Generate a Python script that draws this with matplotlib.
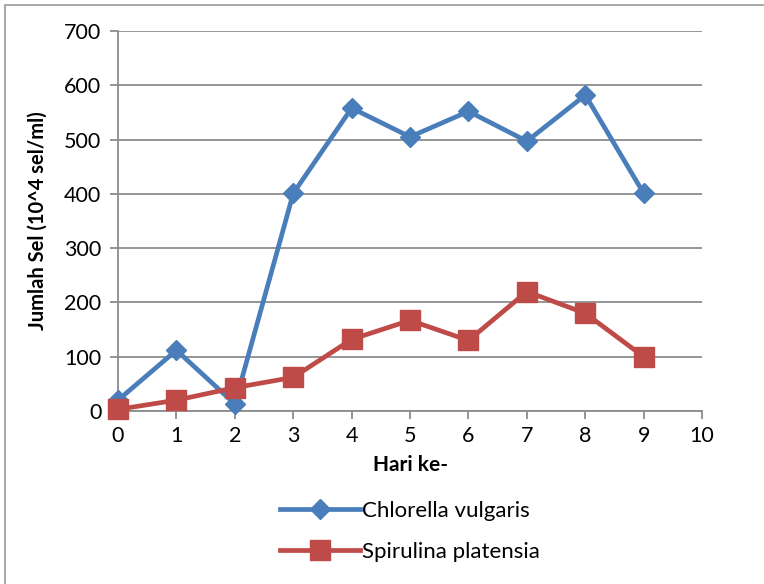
import matplotlib.pyplot as plt
import matplotlib.patches as patches
from matplotlib.lines import Line2D

plt.rcParams['font.family'] = ['Lato', 'DejaVu Sans']

# data
hari = [0, 1, 2, 3, 4, 5, 6, 7, 8, 9]
chlorella = [20, 112, 13, 401, 558, 505, 552, 497, 582, 401]
spirulina = [3, 20, 43, 62, 132, 167, 130, 220, 180, 100]
series_names = ["Chlorella vulgaris", "Spirulina platensia"]

blue = "#4A7EBB"
red = "#BE4B48"
grid_gray = "#8C8C8C"

fig = plt.figure(figsize=(7.64, 5.84), dpi=100)
ax = fig.add_axes([0.1545, 0.2962, 0.7645, 0.6507])

# outer chart frame
fig.patches.append(patches.Rectangle((5 / 764, -0.05), 1.1, 1.05 - 5 / 584,
                                     transform=fig.transFigure, fill=False,
                                     edgecolor="#9A9A9A", linewidth=1.2))

ax.plot(hari, chlorella, color=blue, linewidth=3.4, marker='D', markersize=10,
        clip_on=False, zorder=3)
ax.plot(hari, spirulina, color=red, linewidth=3.4, marker='s', markersize=14,
        clip_on=False, zorder=4)

ax.set_xlim(0, 10)
ax.set_ylim(0, 700)
ax.set_xticks(range(0, 11))
ax.set_yticks(range(0, 701, 100))
ax.yaxis.grid(True, color=grid_gray, linewidth=1.3)
ax.set_axisbelow(True)

for s in ['top', 'right']:
    ax.spines[s].set_visible(False)
for s in ['left', 'bottom']:
    ax.spines[s].set_color(grid_gray)
    ax.spines[s].set_linewidth(1.3)

ax.tick_params(axis='both', colors=grid_gray, labelcolor='black', labelsize=15.5,
               length=6, width=1.3)
ax.tick_params(axis='x', pad=5)
ax.tick_params(axis='y', pad=6)

ax.set_xlabel("Hari ke-", fontsize=15, fontweight='bold', labelpad=6)
ax.set_ylabel("Jumlah Sel (10^4 sel/ml)", fontsize=14.5, fontweight='bold', labelpad=12)

handles = [Line2D([0], [0], color=blue, linewidth=3.4, marker='D', markersize=10),
           Line2D([0], [0], color=red, linewidth=3.4, marker='s', markersize=14)]
fig.legend(handles, series_names, loc='upper left', bbox_to_anchor=(0.355, 0.158),
           frameon=False, fontsize=16, handlelength=3.6, handletextpad=0.1,
           labelspacing=0.95, borderaxespad=0)

fig.savefig("out.png", dpi=100)
